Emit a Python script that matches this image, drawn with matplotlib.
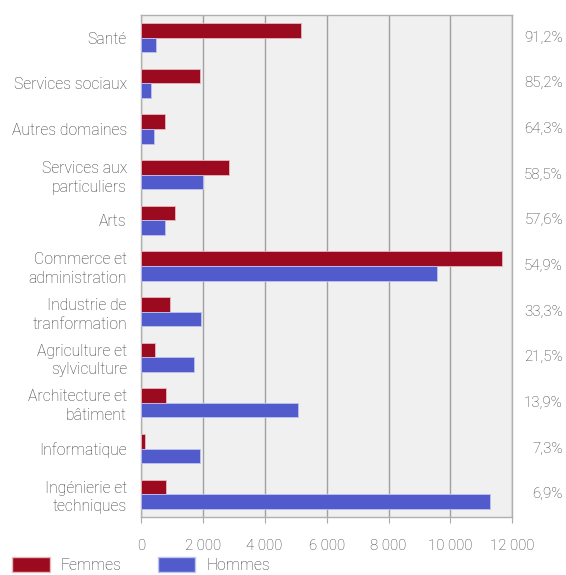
import matplotlib.pyplot as plt
import matplotlib.patches as mpatches
import numpy as np

categories = ["Santé", "Services sociaux", "Autres domaines", "Services aux\nparticuliers",
              "Arts", "Commerce et\nadministration", "Industrie de\ntranformation",
              "Agriculture et\nsylviculture", "Architecture et\nbâtiment", "Informatique",
              "Ingénierie et\ntechniques"]
femmes = [5170, 1920, 795, 2850, 1100, 11650, 950, 460, 815, 145, 830]
hommes = [495, 325, 430, 2010, 790, 9560, 1945, 1720, 5085, 1900, 11270]
part_femmes = ["91,2%", "85,2%", "64,3%", "58,5%", "57,6%", "54,9%", "33,3%",
               "21,5%", "13,9%", "7,3%", "6,9%"]
xticks = [0, 2000, 4000, 6000, 8000, 10000, 12000]
xticklabels = ["0", "2 000", "4 000", "6 000", "8 000", "10 000", "12 000"]

plt.rcParams['font.family'] = ['Roboto', 'DejaVu Sans']
txt_color = "#3a3a3a"
fs = 11.3
wt = "light"

fig = plt.figure(figsize=(5.66, 5.75), dpi=100)
ax = fig.add_axes([0.2486, 0.1009, 0.9054 - 0.2486, 0.974 - 0.1009])
ax.set_facecolor("#f0f0f0")

y = np.arange(len(categories))
h = 0.32
ax.barh(y - h / 2, femmes, height=h, color="#9b0a1e", edgecolor="#e8b8bf", linewidth=0.6, zorder=3)
ax.barh(y + h / 2, hommes, height=h, color="#525bcc", edgecolor="#c0c4f0", linewidth=0.6, zorder=3)

ax.set_ylim(len(categories) - 0.5, -0.5)
ax.set_xlim(0, 12000)
ax.set_yticks(y)
ax.set_yticklabels(categories, ha="right", fontsize=fs, color=txt_color, fontweight=wt,
                   linespacing=1.3)
ax.tick_params(axis="y", length=0, pad=10)
ax.set_xticks(xticks)
ax.set_xticklabels(xticklabels, fontsize=fs - 0.5, color=txt_color, fontweight=wt)
ax.tick_params(axis="x", length=4, color="#aaaaaa", pad=12)
ax.grid(axis="x", color="#a0a0a0", linewidth=1, zorder=1)
for s in ax.spines.values():
    s.set_color("#b0b0b0")
    s.set_linewidth(1)

# part des femmes, a droite
for i, p in enumerate(part_femmes):
    ax.text(1.136, i, p, transform=ax.get_yaxis_transform(), ha="right", va="center",
            fontsize=fs - 0.5, color=txt_color, fontweight=wt)

handles = [mpatches.Patch(facecolor="#9b0a1e", edgecolor="#e8b8bf", label="Femmes"),
           mpatches.Patch(facecolor="#525bcc", edgecolor="#c0c4f0", label="Hommes")]
leg = fig.legend(handles=handles, loc="upper left", bbox_to_anchor=(0.021, 0.031), ncol=2,
                 frameon=False, handlelength=2.4, handleheight=1.05, columnspacing=2.3,
                 handletextpad=0.7, borderpad=0, borderaxespad=0,
                 prop={"size": fs, "weight": wt})
for t in leg.get_texts():
    t.set_color(txt_color)

plt.savefig("out.png", dpi=100)
